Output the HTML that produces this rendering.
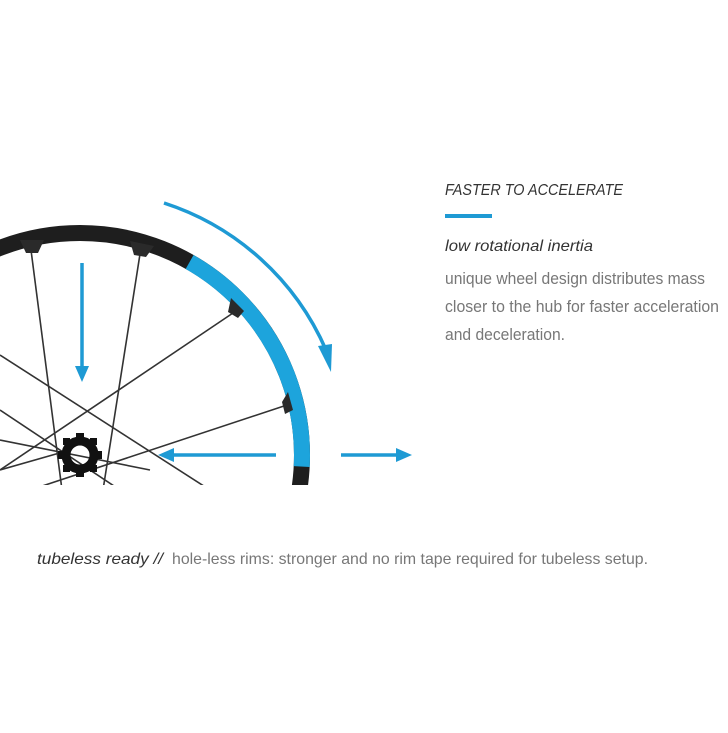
<!DOCTYPE html>
<html><head><style>
html,body{margin:0;padding:0;background:#fff;}
body{width:728px;height:728px;overflow:hidden;}
</style></head><body>
<svg width="728" height="728" viewBox="0 0 728 728" xmlns="http://www.w3.org/2000/svg">
<defs><clipPath id="c"><rect x="0" y="0" width="728" height="485"/></clipPath></defs>
<g clip-path="url(#c)">
 <!-- spokes -->
 <g stroke="#333" stroke-width="1.6">
  <line x1="31" y1="250" x2="62" y2="490"/>
  <line x1="140" y1="254" x2="103" y2="490"/>
  <line x1="233" y1="313" x2="0" y2="470"/>
  <line x1="287" y1="405" x2="0" y2="500"/>
  <line x1="0" y1="355" x2="210" y2="490"/>
  <line x1="0" y1="440" x2="150" y2="470"/>
  <line x1="0" y1="410" x2="120" y2="490"/>
  <line x1="0" y1="470" x2="70" y2="450"/>
 </g>
 <!-- hub -->
 <circle cx="80" cy="455" r="14" fill="none" stroke="#111" stroke-width="9"/>
 <g fill="#111">
  <rect x="76" y="433" width="8" height="6"/><rect x="76" y="471" width="8" height="6"/>
  <rect x="58" y="451" width="6" height="8"/><rect x="96" y="451" width="6" height="8"/>
  <rect x="63" y="438" width="7" height="7"/><rect x="90" y="438" width="7" height="7"/>
  <rect x="63" y="465" width="7" height="7"/><rect x="90" y="465" width="7" height="7"/>
 </g>
 <!-- rim black -->
 <circle cx="80" cy="455" r="222" fill="none" stroke="#1e1e1e" stroke-width="16"/>
 <!-- rim blue section -->
 <path d="M 189.6 262 A 222 222 0 0 1 301.7 466.6" fill="none" stroke="#1da4dc" stroke-width="16"/>
 <!-- nipple bosses -->
 <g fill="#2a2a2a">
  <path d="M20 240 L44 240 L38 253 L26 253 Z"/>
  <path d="M130 241 L154 246 L146 257 L134 255 Z"/>
  <path d="M231 298 L244 311 L238 318 L228 312 Z"/>
  <path d="M288 392 L293 410 L285 414 L282 402 Z"/>
 </g>
</g>
<!-- blue arrows -->
<g stroke="#1e9ad4" stroke-width="3.5" fill="none">
 <path d="M 164 203 A 266 266 0 0 1 326 350"/>
 <line x1="82" y1="263" x2="82" y2="368"/>
 <line x1="276" y1="455" x2="172" y2="455"/>
 <line x1="341" y1="455" x2="398" y2="455"/>
</g>
<g fill="#1e9ad4">
 <polygon points="318,346 332,344 331,372"/>
 <polygon points="75,366 89,366 82,382"/>
 <polygon points="174,448 174,462 158,455"/>
 <polygon points="396,448 396,462 412,455"/>
</g>
<!-- text -->
<g font-family="'Liberation Sans', sans-serif">
 <text x="445" y="195" font-size="16" font-style="italic" fill="#333" textLength="178" lengthAdjust="spacingAndGlyphs">FASTER TO ACCELERATE</text>
 <rect x="445" y="214" width="47" height="4" fill="#1e9ad4"/>
 <text x="445" y="251" font-size="16" font-style="italic" fill="#333" textLength="148" lengthAdjust="spacingAndGlyphs">low rotational inertia</text>
 <text x="445" y="284" font-size="17" fill="#777" textLength="260" lengthAdjust="spacingAndGlyphs">unique wheel design distributes mass</text>
 <text x="445" y="312" font-size="17" fill="#777" textLength="274" lengthAdjust="spacingAndGlyphs">closer to the hub for faster acceleration</text>
 <text x="445" y="340" font-size="17" fill="#777" textLength="120" lengthAdjust="spacingAndGlyphs">and deceleration.</text>
 <text x="37" y="564" font-size="16" font-style="italic" fill="#333" textLength="126" lengthAdjust="spacingAndGlyphs">tubeless ready  //</text>
 <text x="172" y="564" font-size="16" fill="#777" textLength="476" lengthAdjust="spacingAndGlyphs">hole-less rims: stronger and no rim tape required for tubeless setup.</text>
</g>
</svg>
</body></html>
